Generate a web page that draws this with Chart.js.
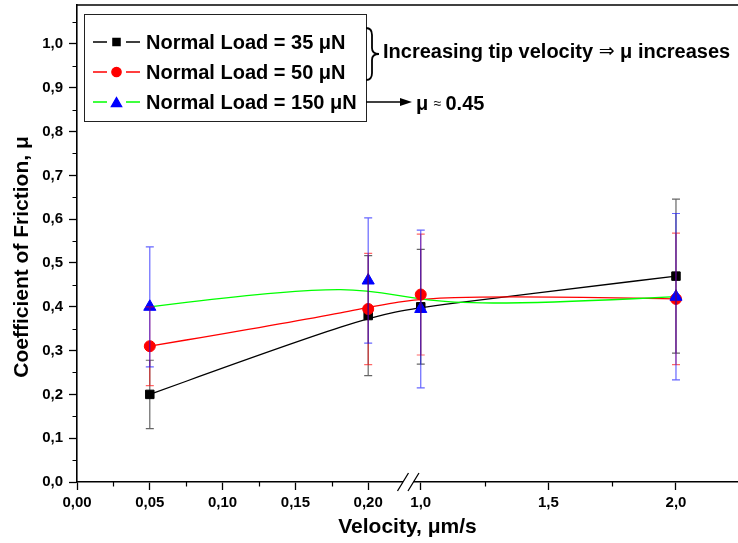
<!DOCTYPE html>
<html>
<head>
<meta charset="utf-8">
<script src="https://cdn.jsdelivr.net/npm/chart.js@4.4.1/dist/chart.umd.min.js"></script>
<style>
  html, body { margin: 0; padding: 0; background: #fff; }
  canvas { display: block; }
</style>
</head>
<body>
<canvas id="chart" width="738" height="543"></canvas>
<script>
// Tip velocity (µm/s) and friction coefficient (mean ± error) for each normal load
const velocities = [0.05, 0.20, 1.0, 2.0];
const mu35   = [0.20, 0.38, 0.40, 0.47];
const err35  = [0.078, 0.137, 0.131, 0.176];
const mu50   = [0.31, 0.395, 0.428, 0.418];
const err50  = [0.09, 0.127, 0.138, 0.15];
const mu150  = [0.40, 0.46, 0.395, 0.423];
const err150 = [0.137, 0.143, 0.18, 0.19];
const seriesLabels = ['Normal Load = 35 μN', 'Normal Load = 50 μN', 'Normal Load = 150 μN'];

// Axis ticks (decimal comma labels)
const xTickValues = [0, 0.05, 0.10, 0.15, 0.20, 1.0, 1.5, 2.0];
const xTickLabels = ['0,00', '0,05', '0,10', '0,15', '0,20', '1,0', '1,5', '2,0'];
const xMinorTicks = [0.025, 0.075, 0.125, 0.175, 1.25, 1.75];
const yTickValues = [0, 0.1, 0.2, 0.3, 0.4, 0.5, 0.6, 0.7, 0.8, 0.9, 1.0];
const yTickLabels = ['0,0', '0,1', '0,2', '0,3', '0,4', '0,5', '0,6', '0,7', '0,8', '0,9', '1,0'];
const yMinorTicks = [0.05, 0.15, 0.25, 0.35, 0.45, 0.55, 0.65, 0.75, 0.85, 0.95, 1.05];

// Broken velocity axis: 0–0.224 on a fine scale, then 0.97–2.24 compressed
const BREAK = { leftEnd: 0.2239, rightStart: 0.9715, join: 0.2361, rightScale: 0.1753, max: 0.454 };
function axisPos(v) {
  return v < 0.5 ? v : BREAK.join + (v - 1) * BREAK.rightScale;
}

const FONT = '"Liberation Sans", Arial, Helvetica, sans-serif';
const PLOT = { left: 77, top: 5, right: 738, bottom: 482 };

function points(values) {
  return velocities.map((v, i) => ({ x: axisPos(v), y: values[i] }));
}

const datasets = [
  {
    label: seriesLabels[0], data: points(mu35), errors: err35,
    pointStyle: 'rect', pointRadius: 6, pointBorderWidth: 1,
    backgroundColor: '#000000', borderColor: '#000000',
    curveColor: '#000000', errorColor: 'rgba(0,0,0,0.6)', order: 3
  },
  {
    label: seriesLabels[1], data: points(mu50), errors: err50,
    pointStyle: 'circle', pointRadius: 5.5, pointBorderWidth: 1,
    backgroundColor: '#ff0000', borderColor: '#ff0000',
    curveColor: '#ff0000', errorColor: 'rgba(255,0,0,0.6)', order: 2
  },
  {
    label: seriesLabels[2], data: points(mu150), errors: err150,
    pointStyle: 'triangle', pointRadius: 7, pointBorderWidth: 1,
    backgroundColor: '#0000ff', borderColor: '#0000ff',
    curveColor: '#00ff00', errorColor: 'rgba(0,0,255,0.6)', order: 1
  }
];

// Keep the plot rectangle fixed inside the canvas
const pinArea = {
  id: 'pinArea',
  afterLayout(chart) {
    const a = Object.assign({}, PLOT);
    a.width = a.right - a.left;
    a.height = a.bottom - a.top;
    Object.assign(chart.chartArea, a);
    const { x, y } = chart.scales;
    Object.assign(x, { left: a.left, right: a.right, top: a.bottom, bottom: chart.height,
                       width: a.width, height: chart.height - a.bottom });
    Object.assign(y, { left: 0, right: a.left, top: a.top, bottom: a.bottom,
                       width: a.left, height: a.height });
    x.configure();
    y.configure();
  }
};

// Clamped uniform cubic B-spline with the measurements as control points
function traceBSpline(ctx, p) {
  const n = p.length - 1;
  const q = [p[0], p[0], ...p, p[n], p[n]];
  ctx.moveTo(p[0][0], p[0][1]);
  for (let i = 0; i + 3 < q.length; i++) {
    const B = q[i + 1], C = q[i + 2], D = q[i + 3];
    ctx.bezierCurveTo(
      (2 * B[0] + C[0]) / 3, (2 * B[1] + C[1]) / 3,
      (B[0] + 2 * C[0]) / 3, (B[1] + 2 * C[1]) / 3,
      (B[0] + 4 * C[0] + D[0]) / 6, (B[1] + 4 * C[1] + D[1]) / 6
    );
  }
}

const splineCurves = {
  id: 'splineCurves',
  beforeDatasetsDraw(chart) {
    const { ctx, chartArea, scales: { x, y } } = chart;
    ctx.save();
    ctx.beginPath();
    ctx.rect(chartArea.left, chartArea.top, chartArea.right - chartArea.left, chartArea.bottom - chartArea.top);
    ctx.clip();
    chart.data.datasets.forEach(ds => {
      const p = ds.data.map(d => [x.getPixelForValue(d.x), y.getPixelForValue(d.y)]);
      ctx.beginPath();
      traceBSpline(ctx, p);
      ctx.strokeStyle = ds.curveColor;
      ctx.lineWidth = 1.3;
      ctx.stroke();
    });
    ctx.restore();
  }
};

// Vertical error bars with caps
const errorBars = {
  id: 'errorBars',
  afterDatasetsDraw(chart) {
    const { ctx, scales: { x, y } } = chart;
    ctx.save();
    ctx.lineWidth = 1.2;
    chart.data.datasets.forEach(ds => {
      ctx.strokeStyle = ds.errorColor;
      ds.data.forEach((d, i) => {
        const px = x.getPixelForValue(d.x);
        const top = y.getPixelForValue(d.y + ds.errors[i]);
        const bot = y.getPixelForValue(d.y - ds.errors[i]);
        ctx.beginPath();
        ctx.moveTo(px, top); ctx.lineTo(px, bot);
        ctx.moveTo(px - 4, top); ctx.lineTo(px + 4, top);
        ctx.moveTo(px - 4, bot); ctx.lineTo(px + 4, bot);
        ctx.stroke();
      });
    });
    ctx.restore();
  }
};

// Frame, minor ticks, axis break, y title, legend box and notes
const decorations = {
  id: 'decorations',
  afterDraw(chart) {
    const { ctx, chartArea: ca, scales: { x, y } } = chart;
    ctx.save();
    ctx.strokeStyle = '#000';
    ctx.fillStyle = '#000';

    // top frame line
    ctx.lineWidth = 1.6;
    ctx.beginPath();
    ctx.moveTo(ca.left, ca.top); ctx.lineTo(ca.right, ca.top);
    ctx.stroke();

    // minor ticks
    ctx.lineWidth = 1.2;
    ctx.beginPath();
    xMinorTicks.forEach(v => {
      const px = Math.round(x.getPixelForValue(axisPos(v))) + 0.5;
      ctx.moveTo(px, ca.bottom); ctx.lineTo(px, ca.bottom + 4.5);
    });
    yMinorTicks.forEach(v => {
      const py = Math.round(y.getPixelForValue(v)) + 0.5;
      ctx.moveTo(ca.left, py); ctx.lineTo(ca.left - 4.5, py);
    });
    ctx.stroke();

    // axis break marks
    const b1 = x.getPixelForValue(BREAK.leftEnd);
    const b2 = x.getPixelForValue(axisPos(BREAK.rightStart));
    ctx.fillStyle = '#fff';
    ctx.fillRect(b1, ca.bottom - 2, b2 - b1, 4);
    ctx.lineWidth = 1.3;
    ctx.beginPath();
    [b1, b2].forEach(bx => {
      ctx.moveTo(bx - 5.5, ca.bottom + 9); ctx.lineTo(bx + 5.5, ca.bottom - 9);
    });
    ctx.stroke();

    // y axis title
    ctx.fillStyle = '#000';
    ctx.save();
    ctx.translate(22, 257);
    ctx.rotate(-Math.PI / 2);
    ctx.font = 'bold 21px ' + FONT;
    ctx.textAlign = 'center';
    ctx.textBaseline = 'middle';
    ctx.fillText('Coefficient of Friction, μ', 0, 0);
    ctx.restore();

    // legend
    const box = { l: 84, t: 14, r: 366, b: 121 };
    ctx.fillStyle = '#fff';
    ctx.fillRect(box.l, box.t, box.r - box.l, box.b - box.t);
    ctx.strokeStyle = '#222';
    ctx.lineWidth = 1;
    ctx.strokeRect(box.l + 0.5, box.t + 0.5, box.r - box.l, box.b - box.t);
    chart.data.datasets.forEach((ds, i) => {
      const ry = 42 + 30 * i;
      ctx.strokeStyle = ds.curveColor;
      ctx.lineWidth = 1.3;
      ctx.beginPath();
      ctx.moveTo(93, ry); ctx.lineTo(107, ry);
      ctx.moveTo(126, ry); ctx.lineTo(140, ry);
      ctx.stroke();
      ctx.fillStyle = ds.backgroundColor;
      ctx.strokeStyle = ds.borderColor;
      Chart.helpers.drawPoint(ctx, {
        pointStyle: ds.pointStyle, rotation: 0,
        radius: ds.pointRadius * 0.85, borderWidth: 1
      }, 116.5, ds.pointStyle === 'triangle' ? ry + 1.5 : ry);
      ctx.fillStyle = '#000';
      ctx.font = 'bold 20px ' + FONT;
      ctx.textAlign = 'left';
      ctx.textBaseline = 'middle';
      ctx.fillText(ds.label, 146, ry + 1);
    });

    // brace and velocity note
    ctx.strokeStyle = '#000';
    ctx.lineWidth = 1.8;
    const bx0 = 366, bxm = 372, bxt = 379, by0 = 28, by1 = 80, bym = 54;
    ctx.beginPath();
    ctx.moveTo(bx0, by0);
    ctx.quadraticCurveTo(bxm, by0, bxm, by0 + 7);
    ctx.lineTo(bxm, bym - 6);
    ctx.quadraticCurveTo(bxm, bym, bxt, bym);
    ctx.quadraticCurveTo(bxm, bym, bxm, bym + 6);
    ctx.lineTo(bxm, by1 - 7);
    ctx.quadraticCurveTo(bxm, by1, bx0, by1);
    ctx.stroke();

    ctx.textBaseline = 'middle';
    ctx.textAlign = 'left';
    let tx = 383;
    const ty = 52;
    ctx.fillStyle = '#000';
    ctx.font = 'bold 20px ' + FONT;
    const part1 = 'Increasing tip velocity ';
    ctx.fillText(part1, tx, ty);
    tx += ctx.measureText(part1).width;
    ctx.font = '19px "DejaVu Sans", sans-serif';
    ctx.fillText('⇒', tx, ty);
    tx += ctx.measureText('⇒').width;
    ctx.font = 'bold 20px ' + FONT;
    ctx.fillText(' μ increases', tx, ty);

    // arrow to the high-load note
    ctx.lineWidth = 1.4;
    ctx.beginPath();
    ctx.moveTo(366, 102); ctx.lineTo(402, 102);
    ctx.stroke();
    ctx.beginPath();
    ctx.moveTo(412, 102); ctx.lineTo(400, 98); ctx.lineTo(400, 106);
    ctx.closePath();
    ctx.fill();

    let nx = 416;
    const ny = 104;
    ctx.font = 'bold 20px ' + FONT;
    ctx.fillText('μ', nx, ny);
    nx += ctx.measureText('μ ').width;
    ctx.font = '14px ' + FONT;
    ctx.fillText('≈', nx, ny);
    nx += ctx.measureText('≈').width + 4;
    ctx.font = 'bold 20px ' + FONT;
    ctx.fillText('0.45', nx, ny);

    ctx.restore();
  }
};

new Chart(document.getElementById('chart'), {
  type: 'scatter',
  data: { datasets },
  options: {
    responsive: false,
    animation: false,
    devicePixelRatio: 1,
    layout: { padding: { top: 5, right: 0, bottom: 0, left: 0 } },
    plugins: { legend: { display: false }, tooltip: { enabled: false } },
    scales: {
      x: {
        type: 'linear', min: 0, max: BREAK.max,
        afterBuildTicks: s => { s.ticks = xTickValues.map(v => ({ value: axisPos(v) })); },
        afterFit: s => { s.height = 61; s.paddingLeft = 0; s.paddingRight = 0; },
        ticks: {
          autoSkip: false, maxRotation: 0, minRotation: 0, padding: 4, color: '#000',
          font: { family: FONT, size: 15, weight: 'bold' },
          callback: (val, i) => xTickLabels[i]
        },
        grid: { drawOnChartArea: false, drawTicks: true, tickLength: 8, tickColor: '#000', tickWidth: 1.3 },
        border: { display: true, color: '#000', width: 1.6 },
        title: {
          display: true, text: 'Velocity, μm/s', color: '#000',
          font: { family: FONT, size: 21, weight: 'bold' },
          padding: { top: 0, bottom: 3 }
        }
      },
      y: {
        type: 'linear', min: 0, max: 1.089,
        afterBuildTicks: s => { s.ticks = yTickValues.map(v => ({ value: v })); },
        afterFit: s => { s.width = 77; s.paddingTop = 0; s.paddingBottom = 0; },
        ticks: {
          autoSkip: false, padding: 6, color: '#000',
          font: { family: FONT, size: 15, weight: 'bold' },
          callback: (val, i) => yTickLabels[i]
        },
        grid: { drawOnChartArea: false, drawTicks: true, tickLength: 8, tickColor: '#000', tickWidth: 1.3 },
        border: { display: true, color: '#000', width: 1.6 },
        title: { display: false }
      }
    }
  },
  plugins: [pinArea, splineCurves, errorBars, decorations]
});
</script>
</body>
</html>
